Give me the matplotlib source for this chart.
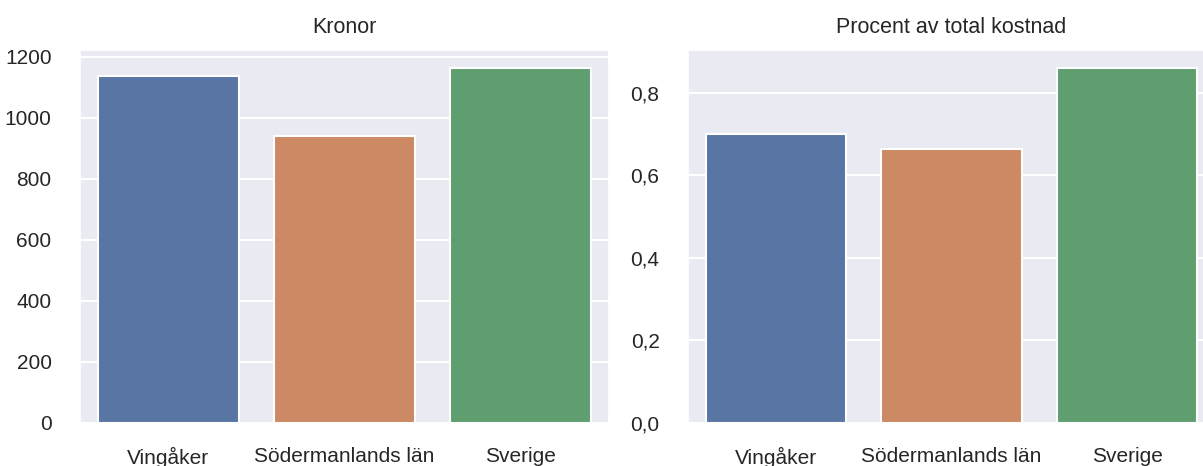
import matplotlib
matplotlib.use("Agg")
import matplotlib.pyplot as plt
import seaborn as sns
from matplotlib.ticker import FuncFormatter, MultipleLocator

# data
regions = ["Vingåker", "Södermanlands län", "Sverige"]
kronor = [1138, 941, 1164]
procent = [0.700, 0.664, 0.861]
titles = ["Kronor", "Procent av total kostnad"]
colors = ["#5975a4", "#cc8963", "#5f9e6e"]

sns.set_theme(style="darkgrid")
plt.rcParams["font.family"] = ["Liberation Sans", "DejaVu Sans"]

W, H = 1203, 466
fig = plt.figure(figsize=(W / 100, H / 100), dpi=100)

# axes placed in pixel coordinates (the original is cropped right/bottom)
ax1 = fig.add_axes([80 / W, (H - 423) / H, 529 / W, 373 / H])
ax2 = fig.add_axes([688 / W, (H - 423) / H, 527 / W, 373 / H])

def comma(v, pos, nd):
    return f"{v:.{nd}f}".replace(".", ",")

for ax, vals, title, step, nd in [(ax1, kronor, titles[0], 200, 0),
                                  (ax2, procent, titles[1], 0.2, 1)]:
    ax.bar(range(len(regions)), vals, width=0.8, color=colors,
           edgecolor="white", linewidth=1.5)
    ax.set_xlim(-0.5, len(regions) - 0.5)
    ax.set_ylim(0, max(vals) * 1.05)
    ax.yaxis.set_major_locator(MultipleLocator(step))
    ax.yaxis.set_major_formatter(FuncFormatter(lambda v, p, nd=nd: comma(v, p, nd)))
    ax.set_xticks(range(len(regions)))
    ax.set_xticklabels(regions)
    ax.tick_params(axis="x", labelsize=15, pad=11.5, colors="#262626")
    ax.tick_params(axis="y", labelsize=15, pad=14.5, colors="#262626")
    ax.set_title(title, fontsize=15.5, color="#262626", pad=12)
    ax.grid(True, axis="y", color="white", linewidth=1.5)
    ax.grid(False, axis="x")

fig.savefig("out.png", dpi=100)
